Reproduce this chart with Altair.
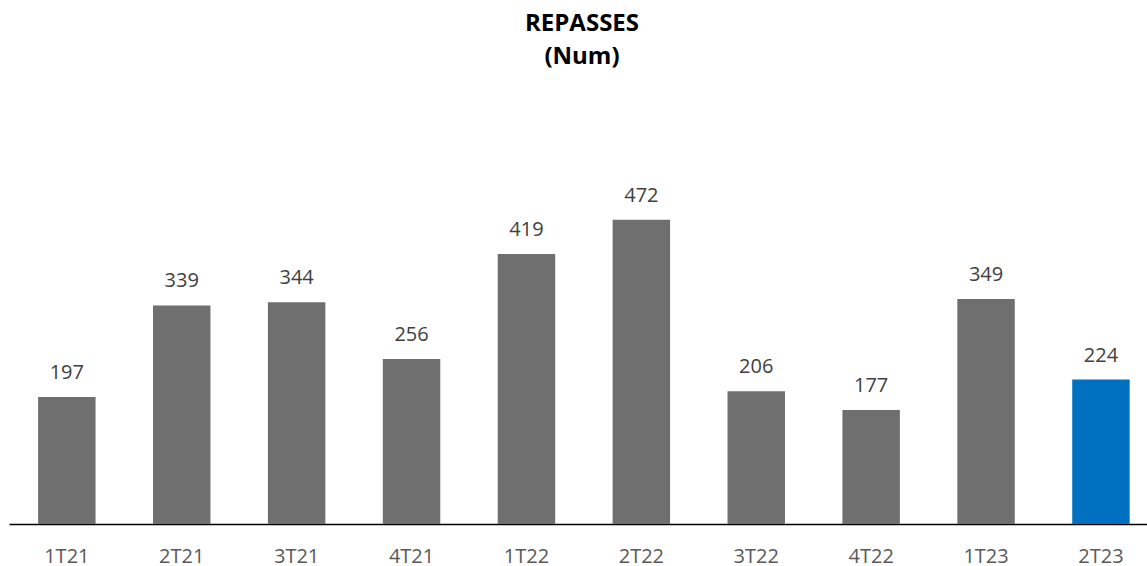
import altair as alt
import pandas as pd

# Quarterly counts
quarters = ["1T21", "2T21", "3T21", "4T21", "1T22", "2T22", "3T22", "4T22", "1T23", "2T23"]
values = [197, 339, 344, 256, 419, 472, 206, 177, 349, 224]
highlight = [False] * 9 + [True]

df = pd.DataFrame({"quarter": quarters, "value": values, "current": highlight})

FONT = "Open Sans"

x_enc = alt.X(
    "quarter:N",
    sort=quarters,
    title=None,
    scale=alt.Scale(paddingInner=0.5, paddingOuter=0.202, align=0.627),
    axis=alt.Axis(
        labelAngle=0,
        labelFont=FONT,
        labelFontSize=20,
        labelColor="#595959",
        labelPadding=22,
        ticks=False,
        domainColor="#000000",
        domainWidth=1.6,
        grid=False,
    ),
)
y_enc = alt.Y(
    "value:Q",
    title=None,
    scale=alt.Scale(domain=[0, 650], nice=False, zero=True),
    axis=None,
)

bars = alt.Chart(df).mark_bar().encode(
    x=x_enc,
    y=y_enc,
    color=alt.condition(
        alt.datum.current, alt.value("#0070C0"), alt.value("#6F6F6F")
    ),
)

labels = alt.Chart(df).mark_text(
    font=FONT, fontSize=20, color="#404040", baseline="alphabetic", dy=-18
).encode(
    x=alt.X("quarter:N", sort=quarters),
    y="value:Q",
    text="value:Q",
)

chart = (
    alt.layer(bars, labels)
    .properties(
        width=1138,
        height=419,
        autosize=alt.AutoSizeParams(type="none"),
        padding={"left": 9, "top": 105, "right": 0, "bottom": 42},
        title=alt.TitleParams(
            text=["REPASSES", "(Num)"],
            font=FONT,
            fontSize=24,
            fontWeight="bold",
            color="#000000",
            lineHeight=32.6,
            anchor="middle",
            offset=36,
            dx=4,
        ),
    )
    .configure(background="white")
    .configure_view(stroke="transparent", strokeWidth=0)
)

chart.save("out.html", embed_options={"renderer": "svg", "actions": False})
